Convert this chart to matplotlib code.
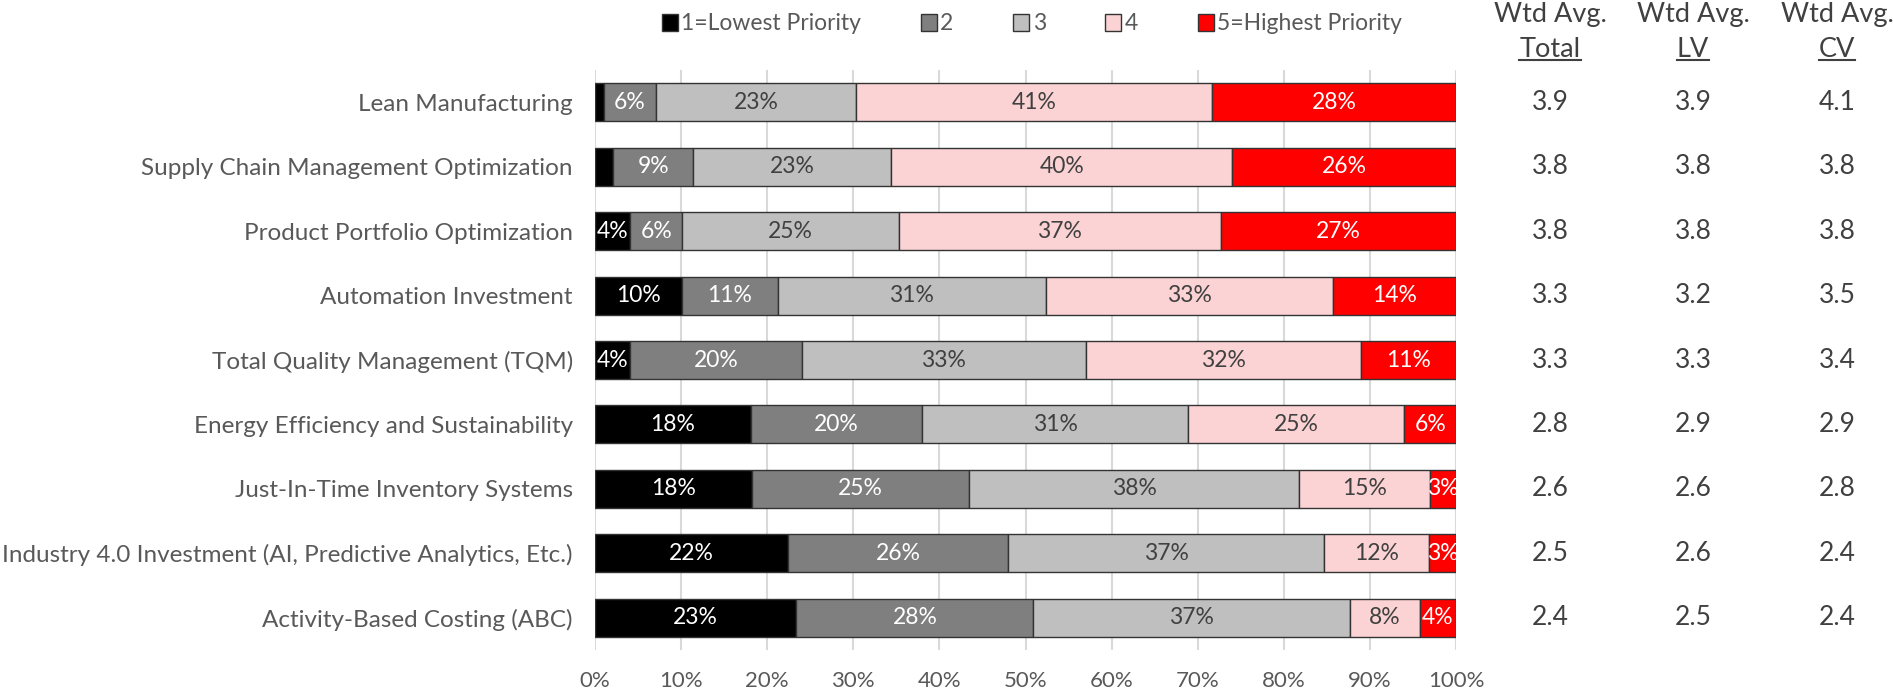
"""Priority ratings of operational initiatives: stacked 100% bars plus weighted averages."""

import matplotlib

matplotlib.use("Agg")
import matplotlib.pyplot as plt
import matplotlib.transforms as mtransforms
import numpy as np
from matplotlib.lines import Line2D
from matplotlib.patches import Patch

plt.rcParams["font.family"] = ["Lato", "DejaVu Sans"]

categories = [
    "Lean Manufacturing",
    "Supply Chain Management Optimization",
    "Product Portfolio Optimization",
    "Automation Investment",
    "Total Quality Management (TQM)",
    "Energy Efficiency and Sustainability",
    "Just-In-Time Inventory Systems",
    "Industry 4.0 Investment (AI, Predictive Analytics, Etc.)",
    "Activity-Based Costing (ABC)",
]

# share of respondents per priority level (percent)
p1 = [1.0, 2.1, 4.1, 10.1, 4.1, 18.1, 18.2, 22.4, 23.4]
p2 = [6.1, 9.3, 6.0, 11.1, 19.9, 19.9, 25.2, 25.6, 27.5]
p3 = [23.2, 23.0, 25.2, 31.2, 33.0, 30.9, 38.4, 36.7, 36.8]
p4 = [41.4, 39.6, 37.4, 33.3, 32.0, 25.1, 15.2, 12.2, 8.1]
p5 = [28.3, 26.0, 27.3, 14.3, 11.0, 6.0, 3.0, 3.1, 4.2]

level_names = ["1=Lowest Priority", "2", "3", "4", "5=Highest Priority"]
level_colors = ["#000000", "#7f7f7f", "#bfbfbf", "#fbd3d4", "#ff0000"]
label_colors = ["white", "white", "#404040", "#404040", "white"]

wtd_total = [3.9, 3.8, 3.8, 3.3, 3.3, 2.8, 2.6, 2.5, 2.4]
wtd_lv = [3.9, 3.8, 3.8, 3.2, 3.3, 2.9, 2.6, 2.6, 2.5]
wtd_cv = [4.1, 3.8, 3.8, 3.5, 3.4, 2.9, 2.8, 2.4, 2.4]

W, H = 1893, 697
fig = plt.figure(figsize=(W / 100, H / 100), dpi=100)
ax = fig.add_axes([595 / W, 1 - 650 / H, (1456 - 595) / W, (650 - 70) / H])

y = np.arange(len(categories))
left = np.zeros(len(categories))
for vals, color, tcolor in zip([p1, p2, p3, p4, p5], level_colors, label_colors):
    vals = np.asarray(vals)
    ax.barh(y, vals, left=left, height=0.59, color=color,
            edgecolor="#333333", linewidth=1.0, zorder=3)
    for yi, (l, v) in enumerate(zip(left, vals)):
        if v >= 2.5:
            ax.text(l + v / 2, yi, f"{v:.0f}%", ha="center", va="center",
                    color=tcolor, fontsize=16.5, zorder=4)
    left += vals

ax.set_xlim(0, 100)
ax.set_ylim(len(categories) - 0.5, -0.5)
ax.set_xticks(np.arange(0, 101, 10))
ax.set_xticklabels([f"{t}%" for t in range(0, 101, 10)])
ax.set_yticks(y)
ax.set_yticklabels(categories)
ax.xaxis.grid(True, color="#d9d9d9", linewidth=1.5, zorder=0)
ax.tick_params(axis="both", length=0, labelcolor="#595959")
ax.tick_params(axis="x", pad=15, labelsize=16)
ax.tick_params(axis="y", pad=16, labelsize=17.5)
for s in ax.spines.values():
    s.set_visible(False)

# weighted-average columns on the right
col_x = [1550, 1693, 1837]
col_sub = ["Total", "LV", "CV"]
trans = mtransforms.blended_transform_factory(fig.transFigure, ax.transData)
for cx, sub, vals in zip(col_x, col_sub, [wtd_total, wtd_lv, wtd_cv]):
    fig.text(cx / W, 1 - 22 / H, "Wtd Avg.", ha="center", va="baseline",
             fontsize=19.5, color="#404040")
    t = fig.text(cx / W, 1 - 57 / H, sub, ha="center", va="baseline",
                 fontsize=19.5, color="#404040")
    for yi, v in enumerate(vals):
        ax.text(cx / W, yi, f"{v:.1f}", transform=trans, ha="center",
                va="center", fontsize=19, color="#404040")
    fig.canvas.draw()
    bb = t.get_window_extent()
    fig.add_artist(Line2D([bb.x0 / W, bb.x1 / W], [(H - 60) / H] * 2,
                          color="#404040", linewidth=1.5))

handles = [Patch(facecolor=c, edgecolor="#333333", linewidth=1.0) for c in level_colors]
fig.legend(handles, level_names, loc="center", bbox_to_anchor=(1032 / W, 1 - 24 / H),
           ncol=5, frameon=False, fontsize=16.5, handlelength=0.7, handleheight=0.7,
           handletextpad=0.15, columnspacing=2.6, labelcolor="#595959")

fig.savefig("out.png", dpi=100)
